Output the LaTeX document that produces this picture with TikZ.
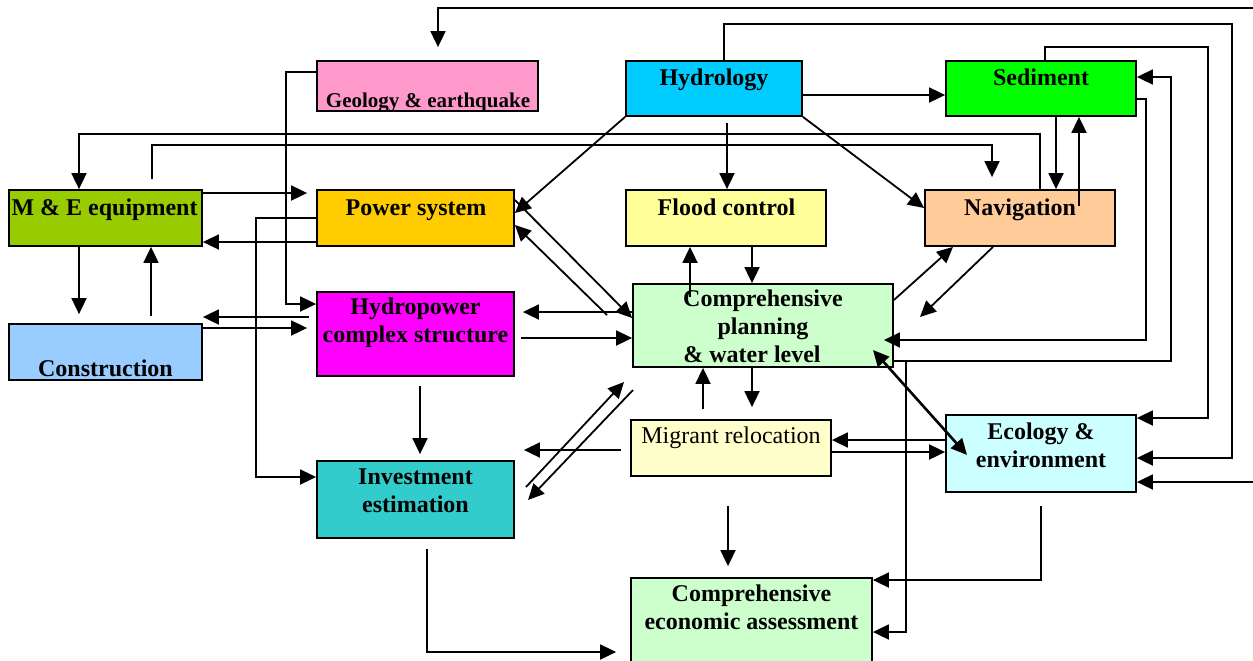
\documentclass[tikz,border=0pt]{standalone}
\usepackage{fontspec}
\setmainfont{Liberation Serif}
\usepackage{tikz}
\usetikzlibrary{arrows.meta,positioning,calc}

\definecolor{geocol}{HTML}{FF99CC}
\definecolor{hydcol}{HTML}{00CCFF}
\definecolor{sedcol}{HTML}{00FF00}
\definecolor{mecol}{HTML}{99CC00}
\definecolor{powcol}{HTML}{FFCC00}
\definecolor{fldcol}{HTML}{FFFF99}
\definecolor{navcol}{HTML}{FFCC99}
\definecolor{concol}{HTML}{99CCFF}
\definecolor{hpscol}{HTML}{FF00FF}
\definecolor{plncol}{HTML}{CCFFCC}
\definecolor{migcol}{HTML}{FFFFCC}
\definecolor{ecocol}{HTML}{CCFFFF}
\definecolor{invcol}{HTML}{33CCCC}

\begin{document}
\begin{tikzpicture}[x=0.5pt, y=-0.5pt,
    box/.style={draw, line width=0.9pt, inner sep=0pt},
    txt/.style={font=\bfseries\fontsize{12}{14}\selectfont, align=center, inner sep=0pt},
    oneline/.style={txt, text height=10pt, text depth=2pt},
    arr/.style={-{Triangle[length=8pt,width=7.5pt]}, line width=0.9pt},
    arrb/.style={{Triangle[length=8pt,width=7.5pt]}-{Triangle[length=8pt,width=7.5pt]}, line width=0.9pt}]
    \useasboundingbox (0,0) rectangle (1253,660);

    % boxes, placed at pixel centres
    \node[box, fill=geocol, minimum width=110.5pt, minimum height=25pt] (geo) at (427.5,86) {};
    \node[box, fill=hydcol, minimum width=88pt, minimum height=27.5pt] (hyd) at (714,88.5) {};
    \node[box, fill=sedcol, minimum width=95pt, minimum height=27.5pt] (sed) at (1041,88.5) {};
    \node[box, fill=mecol, minimum width=96.5pt, minimum height=28pt] (me) at (105.5,218) {};
    \node[box, fill=powcol, minimum width=98.5pt, minimum height=28pt] (pow) at (415.5,218) {};
    \node[box, fill=fldcol, minimum width=100pt, minimum height=28pt] (fld) at (726,218) {};
    \node[box, fill=navcol, minimum width=95pt, minimum height=28pt] (nav) at (1020,218) {};
    \node[box, fill=concol, minimum width=96.5pt, minimum height=28pt] (con) at (105.5,352) {};
    \node[box, fill=hpscol, minimum width=98.5pt, minimum height=42pt] (hps) at (415.5,334) {};
    \node[box, fill=plncol, minimum width=130pt, minimum height=41.5pt] (pln) at (763,325.5) {};
    \node[box, fill=migcol, minimum width=100pt, minimum height=28pt] (mig) at (731,448) {};
    \node[box, fill=ecocol, minimum width=95pt, minimum height=38.5pt] (eco) at (1041,453.5) {};
    \node[box, fill=invcol, minimum width=98.5pt, minimum height=38.5pt] (inv) at (415.5,499.5) {};
    \node[box, fill=plncol, minimum width=120.5pt, minimum height=42pt] (eca) at (751.5,620) {};

    % hydrology
    \draw[arr] (hyd.east |- 0,95) -- (sed.west |- 0,95);
    \draw[arr] (hyd.south east) -- (nav.west |- 0,208);
    \draw[arr] ([yshift=-3pt]hyd.south -| 727,0) -- (fld.north -| 727,0);
    \draw[arr] (hyd.south west) -- (pow.east |- 0,213);
    \draw[arr] (hyd.north -| 724,0) |- (1232,24) |- (eco.east |- 0,458);
    \draw[arrb] ([yshift=6.5pt]geo.north -| 438,0) |- (1260,8) |- (eco.east |- 0,482);

    % sediment
    \draw[arr] (sed.north -| 1045,0) |- (1208,47) |- (eco.east |- 0,418);
    \draw[arr] (sed.east |- 0,99) -| (1146,340) -- ([xshift=-5pt]pln.east |- 0,340);
    \draw[arr] (pln.east |- 0,361) -| (1171,77) -- (sed.east |- 0,77);
    \draw[arr] (906,361) |- (eca.east |- 0,632);
    \draw[arr] (sed.south -| 1056,0) -- (nav.north -| 1056,0);
    \draw[arr] ([yshift=-8.5pt]nav.north -| 1079,0) -- (sed.south -| 1079,0);

    % navigation
    \draw[arr] (nav.north -| 1040,0) |- (79,134) -- (me.north -| 79,0);
    \draw[arr] ([yshift=5pt]me.north -| 152,0) |- (992,145) -- ([yshift=6pt]nav.north -| 992,0);
    \draw[arr] (pln.east |- 0,300) -- (nav.south -| 953,0);
    \draw[arr] (nav.south -| 993,0) -- (920,317);
    \draw[arrb, line width=1.3pt] (873,350) -- (967,455);

    % planning
    \draw[arr] (690,297) -- (fld.south -| 690,0);
    \draw[arr] (fld.south -| 752,0) -- (pln.north -| 752,0);
    \draw[arr] (pow.east |- 0,200) -- (pln.west |- 0,318);
    \draw[arr] (607,315) -- (pow.east |- 0,225);
    \draw[arr] (pln.west |- 0,312) -- ([xshift=4pt]hps.east |- 0,312);
    \draw[arr] ([xshift=3pt]hps.east |- 0,338) -- (pln.west |- 0,338);
    \draw[arr] ([yshift=5pt]mig.north -| 703,0) -- (pln.south -| 703,0);
    \draw[arr] (pln.south -| 752,0) -- ([yshift=6pt]mig.north -| 752,0);
    \draw[arr] (526,487) -- (624,382);
    \draw[arr] (633,390) -- (528,500);

    % migrant relocation
    \draw[arr] ([xshift=-4.5pt]mig.west |- 0,450) -- ([xshift=4.5pt]inv.east |- 0,450);
    \draw[arr] (eco.west |- 0,440) -- (mig.east |- 0,440);
    \draw[arr] (mig.east |- 0,452) -- (eco.west |- 0,452);
    \draw[arr] ([yshift=-14.5pt]mig.south -| 728,0) -- ([yshift=5.5pt]eca.north -| 728,0);
    \draw[arr] ([yshift=-6.5pt]eco.south) |- (eca.east |- 0,580);
    \draw[arr] ([yshift=-5pt]inv.south -| 427,0) |- ([xshift=-7pt]eca.west |- 0,652);

    % left side
    \draw[arr] ([yshift=-4.5pt]hps.south -| 420,0) -- ([yshift=3pt]inv.north -| 420,0);
    \draw[arr] (pow.west |- 0,242) -- (me.east |- 0,242);
    \draw[arr] (me.east |- 0,193) -- ([xshift=-4.5pt]pow.west |- 0,193);
    \draw[arr] (geo.west |- 0,72) -| (286,304) -- (hps.west |- 0,304);
    \draw[arr] (pow.west |- 0,218) -| (256,477) -- (inv.west |- 0,477);
    \draw[arr] (me.south -| 79,0) -- ([yshift=4.5pt]con.north -| 79,0);
    \draw[arr] ([yshift=3.5pt]con.north -| 151,0) -- (me.south -| 151,0);
    \draw[arr] ([xshift=-3.5pt]hps.west |- 0,317) -- (con.east |- 0,317);
    \draw[arr] (con.east |- 0,328) -- ([xshift=-4.5pt]hps.west |- 0,328);

    % texts
    \node[oneline, font=\bfseries\fontsize{10.5}{12}\selectfont] (geotxt) at (428,99) {Geology \& earthquake};
    \node[oneline] (hydtxt) at (714,77) {Hydrology};
    \node[oneline] (sedtxt) at (1041,77) {Sediment};
    \node[oneline] (metxt) at (104.5,207) {M \& E equipment};
    \node[oneline] (powtxt) at (416,207) {Power system};
    \node[oneline] (fldtxt) at (726.5,207) {Flood control};
    \node[oneline] (navtxt) at (1020,207) {Navigation};
    \node[oneline] (context) at (105.5,368) {Construction};
    \node[txt] (hpstxt) at (415.5,323) {Hydropower\\complex structure};
    \node[txt] (plntxt) at (763,326) {Comprehensive\\planning\\\& water level\hspace*{11pt}};
    \node[oneline, font=\fontsize{12}{14}\selectfont] (migtxt) at (731,435) {Migrant relocation};
    \node[txt] (ecotxt) at (1041,445) {Ecology \&\\environment};
    \node[txt] (invtxt) at (415.5,490.5) {Investment\\estimation};
    \node[txt] (ecatxt) at (751.5,607.5) {Comprehensive\\economic assessment};
\end{tikzpicture}
\end{document}
